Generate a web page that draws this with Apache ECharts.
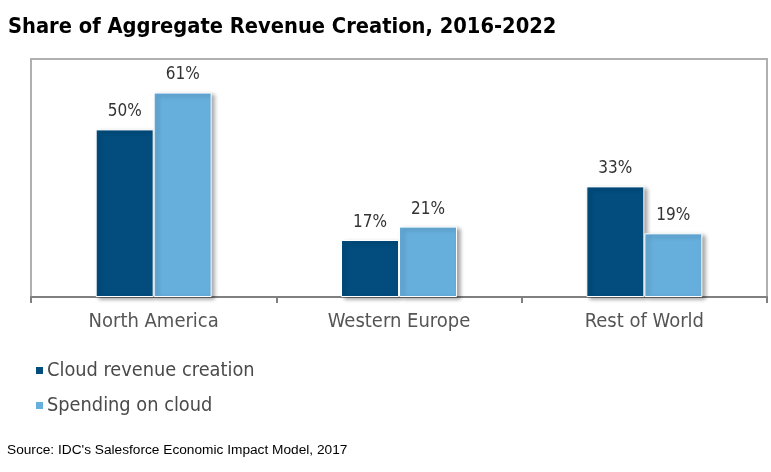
<!DOCTYPE html>
<html><head><meta charset="utf-8">
<script src="https://cdn.jsdelivr.net/npm/echarts@6/dist/echarts.min.js"></script>
<style>html,body{margin:0;padding:0;background:#fff}#c{width:771px;height:472px}</style>
</head><body><div id="c"></div>
<script>
const categories = ['North America', 'Western Europe', 'Rest of World'];
const cloudRevenue = [50, 17, 33];
const spendingOnCloud = [61, 21, 19];
const seriesNames = ['Cloud revenue creation', 'Spending on cloud'];
const titleText = 'Share of Aggregate Revenue Creation, 2016-2022';
const sourceText = "Source: IDC's Salesforce Economic Impact Model, 2017";

const chart = echarts.init(document.getElementById('c'), null, {renderer: 'canvas'});
const labelStyle = {show: true, position: 'top', distance: 9, formatter: '{c}%', color: '#333', fontSize: 17, fontFamily: 'DejaVu Sans Condensed'};
const shadow = {borderColor: '#fff', borderWidth: 1, shadowColor: 'rgba(0,0,0,0.35)', shadowBlur: 4, shadowOffsetX: 3, shadowOffsetY: 2};
chart.setOption({
  animation: false,
  title: [{text: titleText, left: 3, top: 11, textStyle: {fontFamily: 'DejaVu Sans Condensed', fontWeight: 'bold', fontSize: 21.7, color: '#000'}},
          {text: sourceText, left: 2, top: 438, textStyle: {fontFamily: 'Liberation Sans', fontWeight: 'normal', fontSize: 13.7, color: '#000'}}],
  legend: {orient: 'vertical', left: 29, top: 355, icon: 'rect', itemWidth: 9, itemHeight: 9, itemGap: 14,
           textStyle: {fontFamily: 'DejaVu Sans Condensed', fontSize: 19.8, color: '#4a4a4a', lineHeight: 21, padding: [0,0,0,-2]},
           data: seriesNames},
  grid: {left: 31, right: 4, top: 59, bottom: 175, show: true, borderColor: '#b0b0b0', borderWidth: 2},
  xAxis: {type: 'category', data: categories, boundaryGap: true,
          axisLine: {lineStyle: {color: '#808080', width: 2}},
          axisTick: {show: true, interval: 0, length: 6, lineStyle: {color: '#808080', width: 2}},
          axisLabel: {margin: 15, fontFamily: 'DejaVu Sans Condensed', fontSize: 20, color: '#555'}},
  yAxis: {type: 'value', min: 0, max: 71, show: false, splitLine: {show: false}},
  series: [
    {name: seriesNames[0], type: 'bar', data: cloudRevenue, barWidth: 58, barGap: '0%', itemStyle: Object.assign({color: '#024d7e'}, shadow), label: labelStyle},
    {name: seriesNames[1], type: 'bar', data: spendingOnCloud, barWidth: 58, barGap: '0%', itemStyle: Object.assign({color: '#66aedc'}, shadow), label: labelStyle}
  ]
});
</script></body></html>
